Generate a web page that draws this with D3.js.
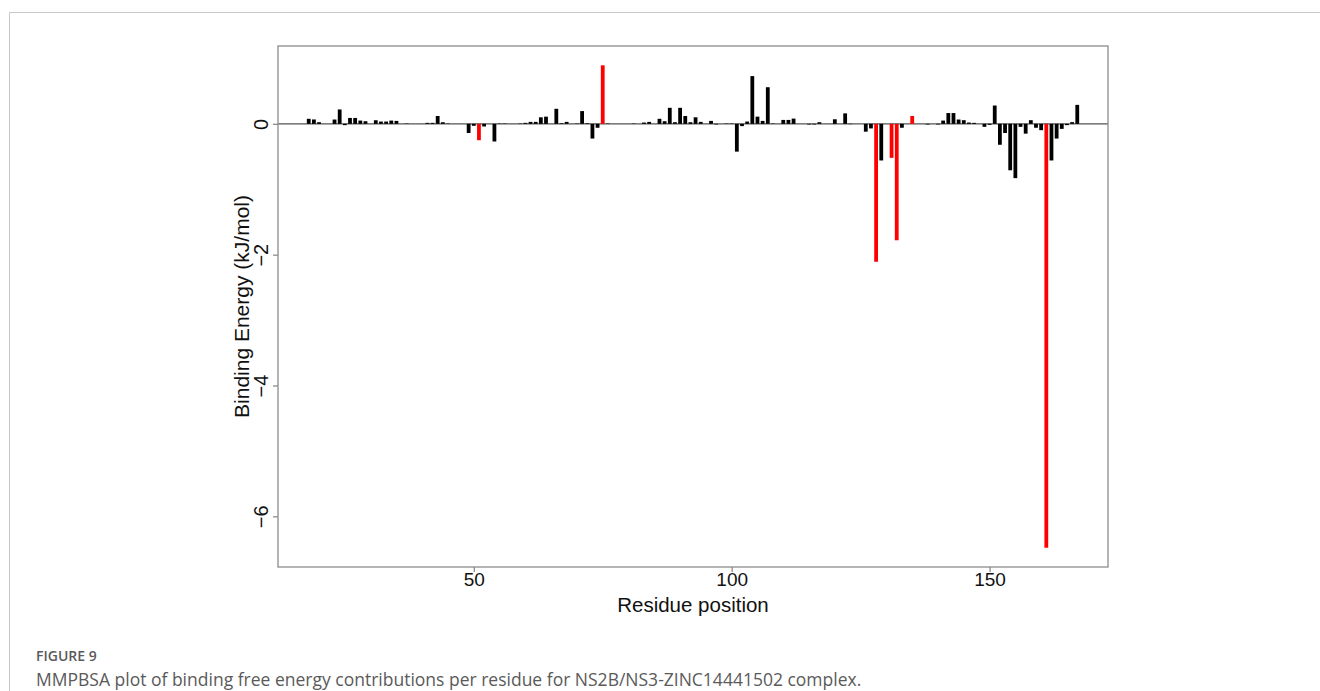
<!DOCTYPE html>
<html>
<head>
<meta charset="utf-8">
<script src="https://cdn.jsdelivr.net/npm/d3@7"></script>
<style>
  body { margin: 0; background: #fff; }
  svg { display: block; }
</style>
</head>
<body>
<div id="chart"></div>
<script>
// Residue numbers and their per-residue binding energy (kJ/mol)
const residues = [18, 19, 20, 23, 24, 25, 26, 27, 28, 29, 31, 32, 33, 34, 35, 37, 41, 42, 43, 44, 45,
    49, 50, 51, 52, 54, 55, 56, 59, 60, 61, 62, 63, 64, 66, 67, 68, 70, 71, 72, 73, 74, 75, 76,
    81, 83, 84, 86, 87, 88, 89, 90, 91, 92, 93, 94, 96, 97, 99, 100, 101, 102, 103, 104, 105,
    106, 107, 108, 110, 111, 112, 115, 116, 117, 120, 122, 123, 126, 127, 128, 129, 131, 132,
    133, 135, 138, 140, 141, 142, 143, 144, 145, 146, 147, 149, 150, 151, 152, 153, 154, 155,
    156, 157, 158, 159, 160, 161, 162, 163, 164, 165, 166, 167];
const energies = [0.077, 0.067, 0.025, 0.066, 0.22, -0.02, 0.09, 0.09, 0.05, 0.04, 0.055, 0.035, 0.035,
    0.05, 0.045, 0.005, 0.015, 0.015, 0.12, 0.025, 0.005,
    -0.14, -0.03, -0.25, -0.04, -0.27, 0.005, 0.005, 0.005, 0.015, 0.03, 0.03, 0.10, 0.11, 0.23,
    0.01, 0.03, 0.005, 0.195, 0.01, -0.225, -0.06, 0.895, 0.005,
    0.005, 0.02, 0.03, 0.077, 0.04, 0.245, 0.025, 0.245, 0.12, 0.025, 0.10, 0.03, 0.045, -0.01,
    0.005, 0.005, -0.425, -0.035, 0.035, 0.73, 0.11,
    0.045, 0.56, 0.005, 0.06, 0.06, 0.08, -0.01, -0.01, 0.025, 0.07, 0.16, -0.005, -0.12, -0.07,
    -2.11, -0.56, -0.52, -1.78,
    -0.06, 0.12, -0.01, -0.01, 0.05, 0.165, 0.165, 0.066, 0.056, 0.02, 0.015, -0.046, -0.015,
    0.28, -0.32, -0.14, -0.71, -0.83,
    -0.046, -0.15, 0.056, -0.06, -0.097, -6.48, -0.56, -0.225, -0.077, -0.02, 0.026, 0.29];
// residues drawn in red
const highlighted = [51, 75, 128, 131, 132, 135, 161];

const xTicks = [50, 100, 150];
const yTicks = [0, -2, -4, -6];

const width = 1320, height = 691;
const plot = {left: 278, right: 1108, top: 46, bottom: 567};

const svg = d3.select("#chart").append("svg")
    .attr("width", width)
    .attr("height", height);

// outer figure frame
svg.append("path")
    .attr("d", `M9.5,${height} V12.5 H${width}`)
    .attr("fill", "none")
    .attr("stroke", "#c8c8c8")
    .attr("stroke-width", 1);

// R-style 4% padding around the data range
function padded(ext) {
    const d = (ext[1] - ext[0]) * 0.04;
    return [ext[0] - d, ext[1] + d];
}

const x = d3.scaleLinear()
    .domain(padded(d3.extent(residues)))
    .range([plot.left, plot.right]);
const y = d3.scaleLinear()
    .domain(padded(d3.extent(energies)))
    .range([plot.bottom, plot.top]);

const data = residues.map((r, i) => ({residue: r, energy: energies[i]}));

// zero line
svg.append("line")
    .attr("x1", plot.left).attr("x2", plot.right)
    .attr("y1", y(0)).attr("y2", y(0))
    .attr("stroke", "#555")
    .attr("stroke-width", 1.3);

// bars (type = "h")
svg.append("g")
    .selectAll("line")
    .data(data)
    .join("line")
    .attr("x1", d => x(d.residue))
    .attr("x2", d => x(d.residue))
    .attr("y1", y(0))
    .attr("y2", d => y(d.energy))
    .attr("stroke", d => highlighted.includes(d.residue) ? "#ff0000" : "#000")
    .attr("stroke-width", 3.8);

// plot box
svg.append("rect")
    .attr("x", plot.left).attr("y", plot.top)
    .attr("width", plot.right - plot.left)
    .attr("height", plot.bottom - plot.top)
    .attr("fill", "none")
    .attr("stroke", "#8c8c8c")
    .attr("stroke-width", 1.3);

const fontFamily = "'Liberation Sans', Arial, sans-serif";

// x axis
const xAxis = svg.append("g")
    .attr("transform", `translate(0,${plot.bottom})`)
    .call(d3.axisBottom(x).tickValues(xTicks).tickSize(5).tickPadding(1).tickFormat(d3.format("d")));
xAxis.select(".domain").remove();
xAxis.selectAll("line").attr("stroke", "#8c8c8c").attr("stroke-width", 1.3);
xAxis.selectAll("text")
    .attr("font-family", fontFamily)
    .attr("font-size", 19)
    .attr("fill", "#111");

// y axis with rotated labels
const yAxis = svg.append("g")
    .attr("transform", `translate(${plot.left},0)`)
    .call(d3.axisLeft(y).tickValues(yTicks).tickSize(5).tickFormat(d3.format("d")));
yAxis.select(".domain").remove();
yAxis.selectAll("line").attr("stroke", "#8c8c8c").attr("stroke-width", 1.3);
yAxis.selectAll("text")
    .attr("font-family", fontFamily)
    .attr("font-size", 20)
    .attr("fill", "#111")
    .attr("text-anchor", "middle")
    .attr("x", 0).attr("dy", 0)
    .attr("transform", "translate(-10,0) rotate(-90)");

// axis titles
svg.append("text")
    .attr("x", (plot.left + plot.right) / 2)
    .attr("y", 612)
    .attr("text-anchor", "middle")
    .attr("font-family", fontFamily)
    .attr("font-size", 20.5)
    .attr("fill", "#111")
    .text("Residue position");

svg.append("text")
    .attr("transform", `translate(249,${(plot.top + plot.bottom) / 2}) rotate(-90)`)
    .attr("text-anchor", "middle")
    .attr("font-family", fontFamily)
    .attr("font-size", 21)
    .attr("fill", "#111")
    .text("Binding Energy (kJ/mol)");

// caption
svg.append("text")
    .attr("x", 36).attr("y", 661)
    .attr("font-family", "'Open Sans', sans-serif")
    .attr("font-size", 14)
    .attr("font-weight", 600)
    .attr("fill", "#5a5a5a")
    .text("FIGURE 9");

svg.append("text")
    .attr("x", 36).attr("y", 686)
    .attr("font-family", "'Open Sans', sans-serif")
    .attr("font-size", 17.5)
    .attr("fill", "#5a5a5a")
    .text("MMPBSA plot of binding free energy contributions per residue for NS2B/NS3-ZINC14441502 complex.");
</script>
</body>
</html>
